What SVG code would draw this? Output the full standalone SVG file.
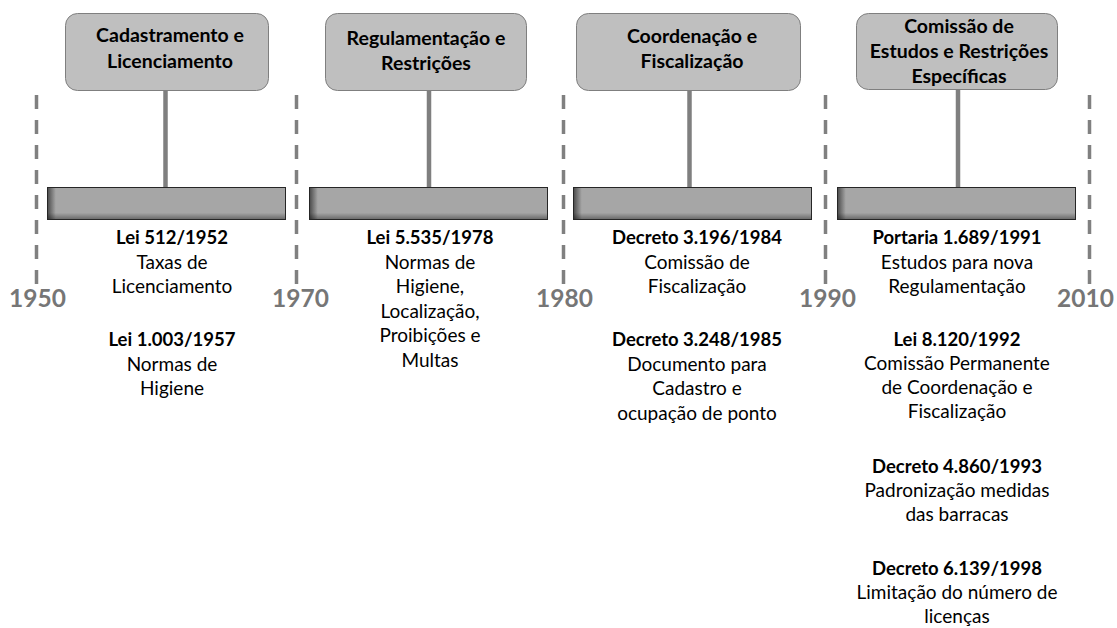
<svg xmlns="http://www.w3.org/2000/svg" width="1117" height="628" viewBox="0 0 1117 628">
<defs>
<linearGradient id="barH" x1="0" y1="0" x2="1" y2="0">
<stop offset="0" stop-color="#4a4a4a"/>
<stop offset="0.035" stop-color="#a6a6a6"/>
<stop offset="1" stop-color="#a6a6a6"/>
</linearGradient>
<linearGradient id="barV" x1="0" y1="0" x2="0" y2="1">
<stop offset="0" stop-color="#000" stop-opacity="0"/>
<stop offset="0.8" stop-color="#000" stop-opacity="0"/>
<stop offset="1" stop-color="#000" stop-opacity="0.35"/>
</linearGradient>
<style>
.box{fill:#bfbfbf;stroke:#7f7f7f;stroke-width:1}
.bar{fill:url(#barH);stroke:#262626;stroke-width:1}
.shade{fill:url(#barV)}
.stem{stroke:#7f7f7f;stroke-width:4.5}
.dash{stroke:#808080;stroke-width:3.5;stroke-dasharray:14 11}
.year{font-family:Lato,"Liberation Sans",sans-serif;font-weight:bold;font-size:24.5px;fill:#767676}
.t{font-family:Lato,"Liberation Sans",sans-serif;font-size:19px;fill:#000;text-anchor:middle}
.b{font-weight:bold;font-size:18.5px}
.h{font-weight:bold;font-size:19.5px}
</style>
</defs>
<rect width="1117" height="628" fill="#fff"/>
<g id="dividers">
<line class="dash" x1="36.5" y1="95" x2="36.5" y2="284"/>
<line class="dash" x1="296.5" y1="95" x2="296.5" y2="284"/>
<line class="dash" x1="563.5" y1="95" x2="563.5" y2="284"/>
<line class="dash" x1="825.5" y1="95" x2="825.5" y2="284"/>
<line class="dash" x1="1089.5" y1="95" x2="1089.5" y2="284"/>
<text class="year" x="9" y="307">1950</text>
<text class="year" x="272" y="307">1970</text>
<text class="year" x="536" y="307">1980</text>
<text class="year" x="799" y="307">1990</text>
<text class="year" x="1057" y="307">2010</text>
</g>
<g id="connectors">
<line class="stem" x1="165.5" y1="91" x2="165.5" y2="187"/>
<line class="stem" x1="429" y1="91" x2="429" y2="187"/>
<line class="stem" x1="689.5" y1="91" x2="689.5" y2="187"/>
<line class="stem" x1="958" y1="90" x2="958" y2="187"/>
</g>
<g id="period1">
<rect class="box" x="65.5" y="13.5" width="203" height="77" rx="12"/>
<text class="t h" x="170" y="42">Cadastramento e</text>
<text class="t h" x="170" y="68">Licenciamento</text>
<rect class="bar" x="47.5" y="187.5" width="238" height="32"/>
<rect class="shade" x="48" y="188" width="237" height="31"/>
<text class="t" x="172"><tspan class="b" x="172" y="244">Lei 512/1952</tspan><tspan x="172" y="268.5">Taxas de</tspan><tspan x="172" y="293">Licenciamento</tspan><tspan class="b" x="172" y="346">Lei 1.003/1957</tspan><tspan x="172" y="370.5">Normas de</tspan><tspan x="172" y="395">Higiene</tspan></text>
</g>
<g id="period2">
<rect class="box" x="325.5" y="13.5" width="201" height="77" rx="12"/>
<text class="t h" x="426" y="45">Regulamentação e</text>
<text class="t h" x="426" y="70">Restrições</text>
<rect class="bar" x="309.5" y="187.5" width="238" height="32"/>
<rect class="shade" x="310" y="188" width="237" height="31"/>
<text class="t"><tspan class="b" x="430" y="244">Lei 5.535/1978</tspan><tspan x="430" y="268.5">Normas de</tspan><tspan x="430" y="293">Higiene,</tspan><tspan x="430" y="317.5">Localização,</tspan><tspan x="430" y="342">Proibições e</tspan><tspan x="430" y="366.5">Multas</tspan></text>
</g>
<g id="period3">
<rect class="box" x="576.5" y="13.5" width="224" height="77" rx="12"/>
<text class="t h" x="692" y="43">Coordenação e</text>
<text class="t h" x="692" y="68">Fiscalização</text>
<rect class="bar" x="573.5" y="187.5" width="238" height="32"/>
<rect class="shade" x="574" y="188" width="237" height="31"/>
<text class="t"><tspan class="b" x="697" y="244">Decreto 3.196/1984</tspan><tspan x="697" y="268.5">Comissão de</tspan><tspan x="697" y="293">Fiscalização</tspan><tspan class="b" x="697" y="346">Decreto 3.248/1985</tspan><tspan x="697" y="370.5">Documento para</tspan><tspan x="697" y="395">Cadastro e</tspan><tspan x="697" y="419.5">ocupação de ponto</tspan></text>
</g>
<g id="period4">
<rect class="box" x="856.5" y="13.5" width="201" height="76" rx="12"/>
<text class="t h" x="959" y="33">Comissão de</text>
<text class="t h" x="959" y="58">Estudos e Restrições</text>
<text class="t h" x="959" y="83">Específicas</text>
<rect class="bar" x="837.5" y="187.5" width="238" height="32"/>
<rect class="shade" x="838" y="188" width="237" height="31"/>
<text class="t"><tspan class="b" x="957" y="244">Portaria 1.689/1991</tspan><tspan x="957" y="268.5">Estudos para nova</tspan><tspan x="957" y="293">Regulamentação</tspan><tspan class="b" x="957" y="346">Lei 8.120/1992</tspan><tspan x="957" y="370">Comissão Permanente</tspan><tspan x="957" y="394">de Coordenação e</tspan><tspan x="957" y="418">Fiscalização</tspan><tspan class="b" x="957" y="473">Decreto 4.860/1993</tspan><tspan x="957" y="497">Padronização medidas</tspan><tspan x="957" y="521">das barracas</tspan><tspan class="b" x="957" y="575">Decreto 6.139/1998</tspan><tspan x="957" y="599">Limitação do número de</tspan><tspan x="957" y="623">licenças</tspan></text>
</g>
</svg>
